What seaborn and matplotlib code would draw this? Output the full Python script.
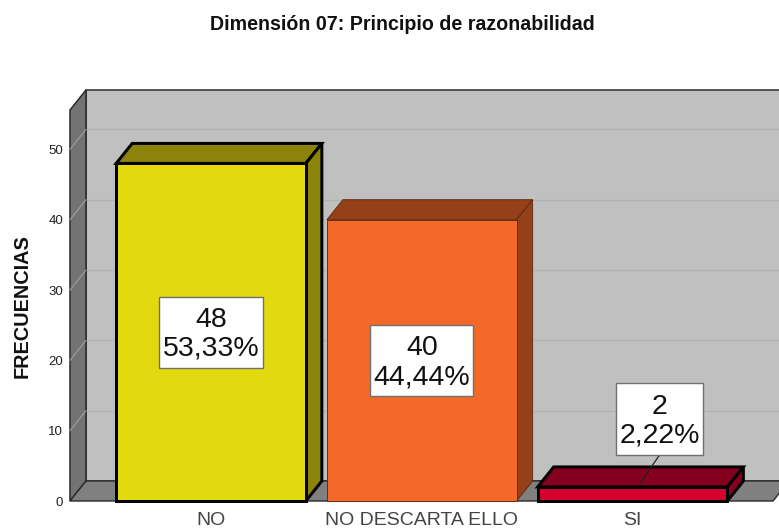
import matplotlib
matplotlib.use("Agg")
import matplotlib.pyplot as plt
from matplotlib.patches import Polygon, Rectangle
import seaborn as sns

categories = ["NO", "NO DESCARTA ELLO", "SI"]
counts = [48, 40, 2]
percents = ["53,33%", "44,44%", "2,22%"]
front_colors = ["#E3D90F", "#F4682A", "#D6002E"]
dark_colors = ["#8C840A", "#964019", "#85001E"]
edge_widths = [3.0, 0.9, 3.0]
y_ticks = [0, 10, 20, 30, 40, 50]

W, H = 779, 529
sns.set_theme(style="white")
plt.rcParams["font.family"] = ["Liberation Sans", "DejaVu Sans"]

fig = plt.figure(figsize=(W / 100, H / 100), dpi=100, facecolor="white")
ax = fig.add_axes([70 / W, (H - 501) / H, 709 / W, 391 / H])
ax.patch.set_visible(False)

sns.barplot(x=categories, y=counts, hue=categories, palette=front_colors,
            saturation=1, width=0.9, legend=False, ax=ax)
bars = sorted([p for p in ax.patches if p.get_height() > 0], key=lambda p: p.get_x())

ymax = 55.6
xl, xr = -0.669, 2.695
ax.set_xlim(xl, xr)
ax.set_ylim(0, ymax)
dx, dy = 16 / 210.75, 20 / 7.03
floor_end = xl + 703 / 210.75

# walls and floor
ax.add_patch(Polygon([(xl + dx, dy), (xr + 1, dy), (xr + 1, ymax + dy), (xl + dx, ymax + dy)],
                     closed=True, fc="#C0C0C0", ec="#3A3A3A", lw=1.2, zorder=0, clip_on=False))
ax.add_patch(Polygon([(xl, 0), (xl + dx, dy), (xl + dx, ymax + dy), (xl, ymax)],
                     closed=True, fc="#737373", ec="#2A2A2A", lw=1.1, zorder=0.6, clip_on=False))
ax.add_patch(Polygon([(xl, 0), (floor_end, 0), (floor_end + dx, dy), (xl + dx, dy)],
                     closed=True, fc="#808080", ec="#2A2A2A", lw=1.0, zorder=0.6, clip_on=False))
ax.set_ylim(0, ymax)
ax.set_xlim(xl, xr)

# grid on the back and side walls
for t in y_ticks[1:]:
    ax.plot([xl + dx, xr], [t + dy, t + dy], color="#B2B2B2", lw=1.0, zorder=0.5, clip_on=False)
    ax.plot([xl, xl + dx], [t, t + dy], color="#A0A0A0", lw=0.8, zorder=0.7, clip_on=False)

# bars with depth
for i, b in enumerate(bars):
    x0, w, h = b.get_x(), b.get_width(), b.get_height()
    lw = edge_widths[i] * 0.72
    z = 2 + i
    b.set(edgecolor="black" if lw > 1 else "#5A2A10", linewidth=lw, zorder=z + 0.2, clip_on=False)
    ec = b.get_edgecolor()
    ax.add_patch(Polygon([(x0, h), (x0 + w, h), (x0 + w + dx, h + dy), (x0 + dx, h + dy)],
                         closed=True, fc=dark_colors[i], ec=ec, lw=lw, zorder=z, joinstyle="miter", clip_on=False))
    ax.add_patch(Polygon([(x0 + w, 0), (x0 + w + dx, dy), (x0 + w + dx, h + dy), (x0 + w, h)],
                         closed=True, fc=dark_colors[i], ec=ec, lw=lw, zorder=z, joinstyle="miter", clip_on=False))

# value labels: box centres and sizes
label_x = [0, 1, 2.13]
label_y = [counts[0] / 2, counts[1] / 2, 11.66]
box_w = [103 / 210.75, 103 / 210.75, 87 / 210.75]
box_h = 71 / 7.03
ax.plot([2.13, 2.036], [label_y[2] - box_h / 2, 2.56], color="#222222", lw=0.9, zorder=9, clip_on=False)
for i in range(3):
    ax.add_patch(Rectangle((label_x[i] - box_w[i] / 2, label_y[i] - box_h / 2), box_w[i], box_h,
                           fc="white", ec="#707070", lw=1.0, zorder=10, clip_on=False))
    ax.text(label_x[i], label_y[i] - 0.3, f"{counts[i]}\n{percents[i]}", ha="center", va="center",
            fontsize=20.5, color="#111111", linespacing=1.16, zorder=11)

# axes text
for s in ax.spines.values():
    s.set_visible(False)
ax.set_yticks(y_ticks)
ax.tick_params(axis="y", length=0, pad=5, labelsize=9.5, labelcolor="#222222")
ax.set_xticks([0, 1, 2])
ax.set_xticklabels(categories)
ax.tick_params(axis="x", length=0, pad=7.6, labelsize=14, labelcolor="#444444")
ax.set_ylabel("FRECUENCIAS", fontsize=14.3, fontweight="bold", color="#111111")
ax.yaxis.set_label_coords((32 - 70) / 709, (501 - 306) / 391)
fig.text(402 / W, 1 - 25 / H, "Dimensión 07: Principio de razonabilidad",
         ha="center", va="center", fontsize=14.1, fontweight="bold", color="#111111")

fig.savefig("out.png", dpi=100, facecolor="white")
